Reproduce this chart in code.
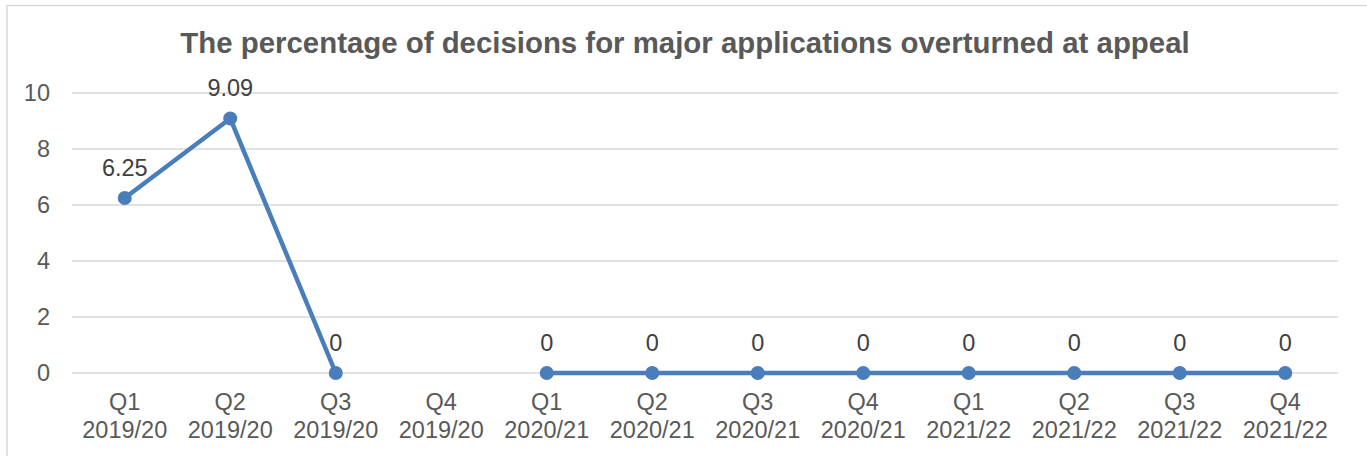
<!DOCTYPE html>
<html>
<head>
<meta charset="utf-8">
<script src="https://cdn.jsdelivr.net/npm/d3@7"></script>
<style>
  html, body { margin: 0; padding: 0; background: #fff; }
  svg { display: block; font-family: 'Liberation Sans', Arial, sans-serif; }
</style>
</head>
<body>
<div id="chart"></div>
<script>
const quarters = ['Q1', 'Q2', 'Q3', 'Q4', 'Q1', 'Q2', 'Q3', 'Q4', 'Q1', 'Q2', 'Q3', 'Q4']
const years = ['2019/20', '2019/20', '2019/20', '2019/20', '2020/21', '2020/21', '2020/21', '2020/21', '2021/22', '2021/22', '2021/22', '2021/22']
const values = [6.25, 9.09, 0, null, 0, 0, 0, 0, 0, 0, 0, 0]
const yTicks = [0, 2, 4, 6, 8, 10]
const title = 'The percentage of decisions for major applications overturned at appeal'

const W = 1367
const H = 456
const margin = { top: 93, left: 72, right: 29, bottom: 83 }
const width = W - margin.left - margin.right
const height = H - margin.top - margin.bottom

const data = values.map((v, i) => ({ i: i, q: quarters[i], yr: years[i], v: v }))

const svg = d3
  .select('#chart')
  .append('svg')
  .attr('width', W)
  .attr('height', H)

// chart frame (cut off at right and bottom)
svg
  .append('rect')
  .attr('x', 7)
  .attr('y', 5.5)
  .attr('width', W + 10)
  .attr('height', H + 10)
  .attr('fill', 'none')
  .attr('stroke', '#d9d9d9')
  .attr('stroke-width', 1.5)

svg
  .append('text')
  .text(title)
  .attr('x', 685)
  .attr('y', 53)
  .attr('text-anchor', 'middle')
  .attr('font-size', 29.4)
  .attr('font-weight', 'bold')
  .attr('fill', '#595959')

const g = svg
  .append('g')
  .attr('transform', 'translate(' + margin.left + ',' + margin.top + ')')

const x = d3
  .scaleBand()
  .domain(d3.range(values.length))
  .range([0, width])

const y = d3
  .scaleLinear()
  .domain([0, 10])
  .range([height, 0])

// gridlines
g.selectAll('.grid')
  .data(yTicks)
  .enter()
  .append('line')
  .attr('class', 'grid')
  .attr('x1', 0)
  .attr('x2', width)
  .attr('y1', d => y(d))
  .attr('y2', d => y(d))
  .attr('stroke', '#d9d9d9')
  .attr('stroke-width', 1.5)

// y labels
g.selectAll('.ylab')
  .data(yTicks)
  .enter()
  .append('text')
  .attr('class', 'ylab')
  .attr('x', -22)
  .attr('y', d => y(d))
  .attr('dy', 8)
  .attr('text-anchor', 'end')
  .attr('font-size', 23.5)
  .attr('fill', '#595959')
  .text(d => d)

// x labels
const xl = g
  .selectAll('.xlab')
  .data(data)
  .enter()
  .append('text')
  .attr('class', 'xlab')
  .attr('text-anchor', 'middle')
  .attr('font-size', 23.5)
  .attr('fill', '#595959')
xl.append('tspan')
  .attr('x', d => x(d.i) + x.bandwidth() / 2)
  .attr('y', height + 37)
  .text(d => d.q)
xl.append('tspan')
  .attr('x', d => x(d.i) + x.bandwidth() / 2)
  .attr('y', height + 65)
  .text(d => d.yr)

const cx = d => x(d.i) + x.bandwidth() / 2

const line = d3
  .line()
  .defined(d => d.v !== null)
  .x(cx)
  .y(d => y(d.v))

g.append('path')
  .datum(data)
  .attr('d', line)
  .attr('fill', 'none')
  .attr('stroke', '#4a7ebb')
  .attr('stroke-width', 4.5)
  .attr('stroke-linejoin', 'round')

const pts = data.filter(d => d.v !== null)

g.selectAll('.dot')
  .data(pts)
  .enter()
  .append('circle')
  .attr('class', 'dot')
  .attr('cx', cx)
  .attr('cy', d => y(d.v))
  .attr('r', 7)
  .attr('fill', '#4a7ebb')

g.selectAll('.val')
  .data(pts)
  .enter()
  .append('text')
  .attr('class', 'val')
  .attr('x', cx)
  .attr('y', d => y(d.v) - 22)
  .attr('text-anchor', 'middle')
  .attr('font-size', 23.5)
  .attr('fill', '#404040')
  .text(d => d.v)
</script>
</body>
</html>
